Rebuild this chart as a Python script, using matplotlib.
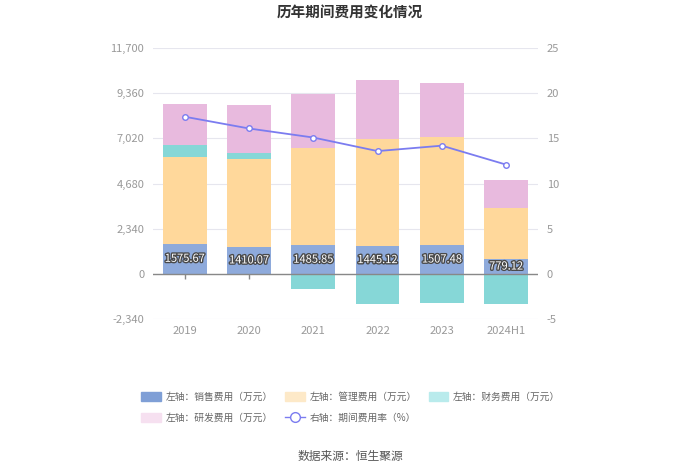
import numpy as np
import matplotlib
matplotlib.use("Agg")
import matplotlib.pyplot as plt
import matplotlib.patheffects as pe
from matplotlib.patches import Patch
from matplotlib.lines import Line2D

plt.rcParams["font.family"] = ["Noto Sans CJK SC", "DejaVu Sans"]
plt.rcParams["axes.unicode_minus"] = False

years = ["2019", "2020", "2021", "2022", "2023", "2024H1"]
sales = [1575.67, 1410.07, 1485.85, 1445.12, 1507.48, 779.12]
admin = [4477, 4540, 5052, 5521, 5596, 2662]
finance = [603, 294, -790, -1532, -1497, -1565]
rnd = [2168, 2528, 2766, 3060, 2787, 1425]
rate = [17.4, 16.1, 15.1, 13.6, 14.2, 12.1]

left_ticks = [-2340, 0, 2340, 4680, 7020, 9360, 11700]
right_ticks = [-5, 0, 5, 10, 15, 20, 25]

c_sales = "#8eaadb"
c_admin = "#ffd89b"
c_fin = "#86d7d7"
c_rnd = "#e8bade"
c_line = "#7b7cf0"
grey = "#999999"

fig = plt.figure(figsize=(7.0, 4.73), dpi=100)
ax = fig.add_axes([0.218, 0.325, 0.551, 0.5735])

x = np.arange(len(years))
w = 0.68
sales = np.array(sales)
admin = np.array(admin)
finance = np.array(finance)
rnd = np.array(rnd)

ax.bar(x, sales, w, color=c_sales, zorder=3)
ax.bar(x, admin, w, bottom=sales, color=c_admin, zorder=3)
pos_fin = np.where(finance > 0, finance, 0)
neg_fin = np.where(finance < 0, finance, 0)
ax.bar(x, pos_fin, w, bottom=sales + admin, color=c_fin, zorder=3)
ax.bar(x, neg_fin, w, color=c_fin, zorder=3)
ax.bar(x, rnd, w, bottom=sales + admin + pos_fin, color=c_rnd, zorder=3)

for xi, v in zip(x, sales):
    ax.text(xi, v / 2, f"{v:.2f}", ha="center", va="center", fontsize=8,
            color="white", zorder=5,
            path_effects=[pe.withStroke(linewidth=2, foreground="#4a4a4a")])

ax.set_xlim(-0.5, 5.5)
ax.set_ylim(-2340, 11700)
ax.set_yticks(left_ticks)
ax.set_yticklabels([f"{t:,}" for t in left_ticks])
ax.set_xticks(x)
ax.set_xticklabels(years)
ax.grid(axis="y", color="#e6e6ee", linewidth=0.8, zorder=0)
ax.axhline(0, color="#888888", linewidth=1, zorder=4)
# category tick marks hang off the zero line
ax.vlines(x, -230, 0, color="#888888", linewidth=1, zorder=2)
for s in ax.spines.values():
    s.set_visible(False)
ax.tick_params(axis="y", length=0, colors=grey, labelsize=8, pad=6)
ax.tick_params(axis="x", length=0, colors=grey, labelsize=8, pad=5)

ax2 = ax.twinx()
ax2.set_ylim(-5, 25)
ax2.set_yticks(right_ticks)
ax2.plot(x, rate, color=c_line, linewidth=1.3, marker="o", markersize=4,
         markerfacecolor="white", markeredgecolor=c_line, zorder=6)
for s in ax2.spines.values():
    s.set_visible(False)
ax2.tick_params(axis="y", length=0, colors=grey, labelsize=8, pad=6)

fig.text(0.5, 0.974, "历年期间费用变化情况", ha="center", va="center",
         fontsize=10.5, fontweight="bold", color="#333333")

handles = [
    Patch(color="#7f9fd6", label="左轴：销售费用（万元）"),
    Patch(color="#f6e0f0", label="左轴：研发费用（万元）"),
    Patch(color="#fde9c8", label="左轴：管理费用（万元）"),
    Line2D([0], [0], color=c_line, marker="o", markersize=7, linewidth=1,
           markerfacecolor="white", label="右轴：期间费用率（%）"),
    Patch(color="#b9ebec", label="左轴：财务费用（万元）"),
]
leg = fig.legend(handles=handles, ncol=3, loc="upper left", bbox_to_anchor=(0.202, 0.172),
                 frameon=False, fontsize=7, handlelength=2.0, handleheight=1.1,
                 columnspacing=1.25, labelspacing=1.15, handletextpad=0.5,
                 borderpad=0, borderaxespad=0)
for t in leg.get_texts():
    t.set_color("#666666")

fig.text(0.5, 0.035, "数据来源：恒生聚源", ha="center", va="center",
         fontsize=8.5, color="#555555")

fig.savefig("out.png", dpi=100)
